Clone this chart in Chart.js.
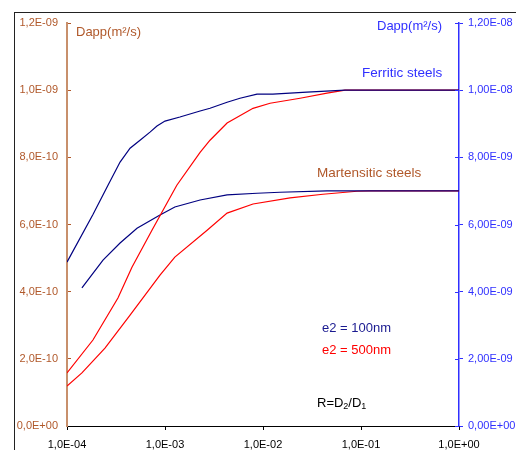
<!DOCTYPE html>
<html>
<head>
<meta charset="utf-8">
<script src="https://cdn.jsdelivr.net/npm/chart.js@4"></script>
<style>
body{margin:0;background:#fff}
</style>
</head>
<body>
<canvas id="chart" width="516" height="450"></canvas>
<script>
// R = D2/D1 values
const rFerr100 = [1e-4,1.84e-4,2.62e-4,3.48e-4,4.40e-4,5.56e-4,7.03e-4,8.28e-4,1e-3,1.42e-3,2.28e-3,2.88e-3,4.30e-3,5.82e-3,8.69e-3,1.26e-2,2.81e-2,6.87e-2,1]
const dFerr100 = [4.88e-9,6.30e-9,7.17e-9,7.86e-9,8.27e-9,8.51e-9,8.75e-9,8.93e-9,9.08e-9,9.20e-9,9.38e-9,9.46e-9,9.64e-9,9.76e-9,9.88e-9,9.88e-9,9.94e-9,10.0e-9,10.0e-9]

const rFerr500 = [1e-4,1.84e-4,3.31e-4,4.60e-4,7.36e-4,1.32e-3,2.28e-3,2.88e-3,4.30e-3,7.91e-3,1.18e-2,2.39e-2,4.50e-2,6.87e-2,1]
const dFerr500 = [1.58e-9,2.56e-9,3.81e-9,4.73e-9,5.83e-9,7.17e-9,8.15e-9,8.51e-9,9.02e-9,9.46e-9,9.61e-9,9.76e-9,9.91e-9,10.0e-9,10.0e-9]

const rMart100 = [1.42e-4,2.33e-4,3.48e-4,5.18e-4,8.89e-4,1.26e-3,2.28e-3,4.30e-3,8.69e-3,1.49e-2,4.50e-2,1]
const dMart100 = [4.11e-10,4.94e-10,5.45e-10,5.89e-10,6.28e-10,6.52e-10,6.73e-10,6.88e-10,6.93e-10,6.96e-10,7.0e-10,7.0e-10]

const rMart500 = [1e-4,1.42e-4,2.44e-4,4.40e-4,8.89e-4,1.26e-3,2.69e-3,4.30e-3,7.91e-3,1.89e-2,4.09e-2,9.10e-2,1.24e-1,1]
const dMart500 = [1.19e-10,1.58e-10,2.32e-10,3.30e-10,4.49e-10,5.03e-10,5.83e-10,6.34e-10,6.61e-10,6.79e-10,6.90e-10,6.99e-10,7.0e-10,7.0e-10]

const xTicks = [1e-4,1e-3,1e-2,1e-1,1]
const leftTicks = [0,2e-10,4e-10,6e-10,8e-10,1e-9,1.2e-9]
const rightTicks = [0,2e-9,4e-9,6e-9,8e-9,1e-8,1.2e-8]

const NAVY = '#000080'
const RED = '#ff0000'
const BROWN = '#b0582a'
const BROWN_AXIS = '#c8906c'
const BLUE = '#3030ff'
const FONT = 'Liberation Sans, Arial, sans-serif'

function fmt(v, d){
  let s = v.toExponential(d)
  let parts = s.split('e')
  let sign = parts[1][0]
  let n = parts[1].slice(1).padStart(2,'0')
  return parts[0].replace('.', ',') + 'E' + sign + n
}

function pts(xs, ys){
  return xs.map((x,i) => ({x: x, y: ys[i]}))
}

function ds(label, xs, ys, color, axis){
  return {
    label: label,
    data: pts(xs, ys),
    borderColor: color,
    borderWidth: 1.2,
    pointRadius: 0,
    tension: 0,
    fill: false,
    yAxisID: axis
  }
}

// frame, right axis inner tick halves and the text labels
const extras = {
  id: 'extras',
  beforeDraw(chart){
    const c = chart.ctx
    c.save()
    c.strokeStyle = '#222'
    c.lineWidth = 1
    c.strokeRect(14.5, 12.5, 600, 600)
    c.restore()
  },
  afterDraw(chart){
    const c = chart.ctx
    const a = chart.chartArea
    const yr = chart.scales.yR
    c.save()
    c.strokeStyle = BLUE
    c.lineWidth = 1
    rightTicks.forEach(v => {
      let y = Math.round(yr.getPixelForValue(v)) + 0.5
      c.beginPath(); c.moveTo(a.right - 4, y); c.lineTo(a.right, y); c.stroke()
    })
    c.textBaseline = 'middle'
    c.font = '13px ' + FONT
    c.fillStyle = BROWN
    c.fillText('Dapp(m²/s)', a.left + 9, 32)
    c.fillStyle = BLUE
    c.fillText('Dapp(m²/s)', 377, 26)
    c.font = '13.5px ' + FONT
    c.fillText('Ferritic steels', 362, 73)
    c.fillStyle = BROWN
    c.fillText('Martensitic steels', 317, 173)
    c.font = '13px ' + FONT
    c.fillStyle = '#1a1a90'
    c.fillText('e2 = 100nm', 322, 328)
    c.fillStyle = RED
    c.fillText('e2 = 500nm', 322, 350)
    // R=D2/D1 with subscripts
    c.fillStyle = '#000'
    let x = 317, y = 403
    c.font = '13px ' + FONT
    c.fillText('R=D', x, y); x += c.measureText('R=D').width
    c.font = '9px ' + FONT
    c.fillText('2', x, y + 4); x += c.measureText('2').width
    c.font = '13px ' + FONT
    c.fillText('/D', x, y); x += c.measureText('/D').width
    c.font = '9px ' + FONT
    c.fillText('1', x, y + 4)
    c.restore()
  }
}

const ctx = document.getElementById('chart')
new Chart(ctx, {
  type: 'line',
  data: {
    datasets: [
      ds('Ferritic e2=100nm', rFerr100, dFerr100, NAVY, 'yR'),
      ds('Ferritic e2=500nm', rFerr500, dFerr500, RED, 'yR'),
      ds('Martensitic e2=100nm', rMart100, dMart100, NAVY, 'yL'),
      ds('Martensitic e2=500nm', rMart500, dMart500, RED, 'yL')
    ]
  },
  options: {
    responsive: false,
    devicePixelRatio: 1,
    animation: false,
    layout: { padding: { top: 23, left: 0, right: 0, bottom: 0 } },
    plugins: { legend: { display: false }, tooltip: { enabled: false } },
    scales: {
      x: {
        type: 'logarithmic',
        min: 1e-4,
        max: 1,
        afterBuildTicks: s => { s.ticks = xTicks.map(v => ({value: v})) },
        afterFit: s => { s.height = 24 },
        grid: { drawOnChartArea: false, tickLength: 4, color: '#000' },
        border: { color: '#000', width: 1 },
        ticks: {
          autoSkip: false, maxRotation: 0, padding: 8,
          color: '#000', font: { family: FONT, size: 11 },
          callback: v => fmt(v, 1)
        }
      },
      yL: {
        type: 'linear',
        position: 'left',
        min: 0,
        max: 1.2e-9,
        afterBuildTicks: s => { s.ticks = leftTicks.map(v => ({value: v})) },
        afterFit: s => { s.width = 67 },
        grid: { drawOnChartArea: false, tickLength: -4, color: BROWN },
        border: { color: BROWN_AXIS, width: 2 },
        ticks: {
          padding: 13,
          color: BROWN, font: { family: FONT, size: 11 },
          callback: v => fmt(v, 1)
        }
      },
      yR: {
        type: 'linear',
        position: 'right',
        min: 0,
        max: 1.2e-8,
        afterBuildTicks: s => { s.ticks = rightTicks.map(v => ({value: v})) },
        afterFit: s => { s.width = 57 },
        grid: { drawOnChartArea: false, tickLength: 4, color: BLUE },
        border: { color: BLUE, width: 1.5 },
        ticks: {
          padding: 5,
          color: BLUE, font: { family: FONT, size: 11 },
          callback: v => fmt(v, 2)
        }
      }
    }
  },
  plugins: [extras]
})
</script>
</body>
</html>
